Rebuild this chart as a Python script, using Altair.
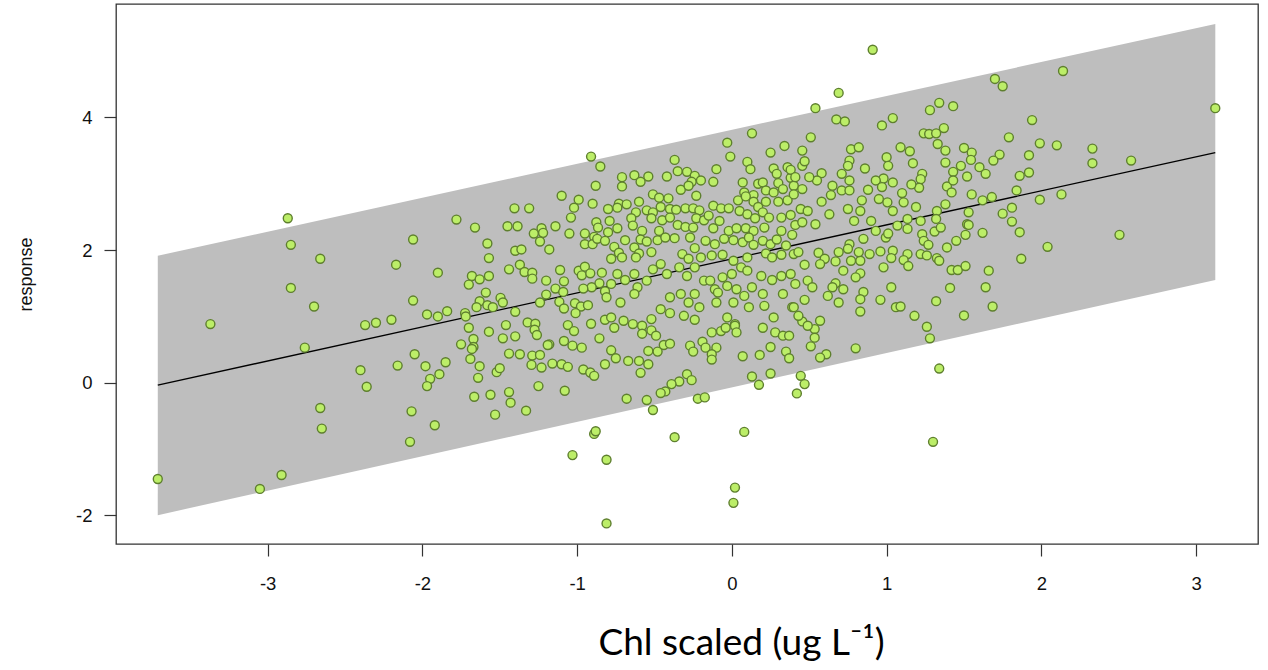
import altair as alt
import pandas as pd

# ---- data (x = Chl scaled, y = response) ----
pts_far_left = [(-2.87,2.48),(-2.85,2.08),(-2.66,1.87),(-2.85,1.43),(-2.70,1.15),(-3.37,0.885),(-2.76,0.53),
    (-3.71,-1.45),(-3.05,-1.60),(-2.91,-1.39),(-2.66,-0.38),(-2.65,-0.69),(-2.06,2.16),(-2.17,1.78),(-2.06,1.24),
    (-2.37,0.87),(-2.30,0.905),(-2.20,0.95),(-2.40,0.19),(-2.36,-0.06),(-2.16,0.26),(-2.05,0.43),(-2.07,-0.43),(-2.08,-0.89)]

pts_left_upper = [(-0.91,3.41),(-0.85,3.26),(-0.88,2.97),(-1.10,2.82),(-0.99,2.76),(-0.90,2.70),(-1.02,2.64),(-1.405,2.63),
    (-1.31,2.63),(-1.04,2.49),(-1.78,2.46),(-1.66,2.34),(-1.45,2.36),(-1.385,2.36),(-1.14,2.36),(-1.23,2.33),(-1.28,2.25),
    (-1.22,2.26),(-1.05,2.25),(-0.95,2.25),(-0.876,2.42),(-0.865,2.34),(-0.89,2.20),(-0.95,2.09),(-0.90,2.09),(-0.87,2.17),
    (-1.24,2.13),(-1.18,2.01),(-1.58,2.10),(-1.57,1.88),(-1.40,1.99),(-1.36,2.01),(-1.44,1.71),(-1.37,1.78),(-1.34,1.67),
    (-1.29,1.66),(-1.29,1.57),(-1.20,1.54),(-1.11,1.70),(-1.085,1.53),(-0.99,1.69),(-0.95,1.75),(-0.97,1.62),(-0.915,1.65),
    (-0.84,1.66),(-0.856,1.50),(-0.906,1.44),(-1.90,1.66),(-1.68,1.61),(-1.63,1.56),(-1.57,1.61),(-1.70,1.48),(-1.59,1.36),
    (-1.495,1.28),(-1.48,1.21),(-1.63,1.23),(-1.58,1.17),(-1.65,1.14),(-1.545,1.14),(-1.84,1.08),(-1.97,1.03),(-1.90,1.00),
    (-1.724,1.05),(-1.72,1.00),(-1.40,1.07),(-1.20,1.33),(-1.14,1.42),(-1.09,1.37),(-1.24,1.21),(-1.115,1.22),(-1.085,1.12),
    (-1.014,1.20),(-0.975,1.15),(-0.93,1.17),(-1.01,1.05),(-0.96,1.42),(-0.82,1.38),(-0.91,0.89),(-0.82,0.95),(-1.32,0.91),
    (-1.27,0.89),(-1.275,0.80),(-1.26,0.72),(-1.46,0.87),(-1.40,0.70),(-1.57,0.77),(-1.70,0.83),(-1.67,0.66),(-1.75,0.58),
    (-1.67,0.54),(-1.48,0.67),(-1.18,0.58),(-1.085,0.63),(-1.03,0.56),(-1.06,0.87),(-1.02,0.78),(-0.97,0.53),(-0.856,0.67)]

pts_left_lower = [(-1.98,0.25),(-1.85,0.31),(-1.89,0.13),(-1.95,0.06),(-1.97,-0.05),(-1.92,-0.64),(-1.68,0.51),(-1.69,0.36),
    (-1.63,0.25),(-1.64,0.075),(-1.665,-0.21),(-1.56,-0.18),(-1.53,-0.48),(-1.44,-0.14),(-1.43,-0.30),(-1.33,-0.42),
    (-1.52,0.16),(-1.50,0.22),(-1.44,0.44),(-1.37,0.43),(-1.29,0.41),(-1.24,0.42),(-1.295,0.27),(-1.23,0.23),(-1.25,-0.05),
    (-1.19,0.57),(-1.16,0.29),(-1.10,0.28),(-1.06,0.24),(-1.08,-0.12),(-0.96,0.20),(-0.915,0.155),(-0.89,0.105),(-0.82,0.28),
    (-0.89,-0.77),(-0.88,-0.73),(-1.03,-1.09),(-0.81,-1.16),(-0.81,-2.12)]

pts_center_upper = [(0.13,3.76),(-0.03,3.62),(0.34,3.57),(0.25,3.47),(-0.01,3.41),(-0.37,3.36),(-0.35,3.19),(-0.29,3.18),
    (-0.10,3.22),(0.10,3.33),(0.12,3.22),(0.27,3.23),(0.36,3.25),(0.29,3.15),(-0.71,3.10),(-0.63,3.13),(-0.54,3.11),
    (-0.59,3.03),(-0.42,3.11),(-0.71,2.96),(-0.24,3.12),(-0.26,3.03),(-0.20,3.05),(-0.33,2.91),(-0.28,2.97),(-0.12,3.03),
    (0.07,3.02),(0.17,3.00),(0.20,3.02),(0.30,3.01),(0.38,3.09),(0.40,2.97),(0.22,2.90),(0.27,2.87),(0.33,2.92),(0.08,2.87),
    (0.14,2.83),(-0.51,2.84),(-0.47,2.79),(-0.41,2.78),(-0.23,2.82),(-0.60,2.73),(-0.73,2.70),(-0.68,2.69),(-0.80,2.62),
    (-0.74,2.64),(-0.62,2.57),(-0.55,2.60),(-0.51,2.57),(-0.46,2.65),(-0.40,2.62),(-0.36,2.61),(-0.30,2.63),(-0.25,2.63),
    (-0.21,2.60),(-0.12,2.67),(-0.07,2.63),(-0.02,2.63),(0.04,2.75),(0.09,2.81),(0.14,2.73),(0.17,2.65),(0.22,2.73),
    (0.30,2.73),(0.36,2.75),(0.40,2.84),(0.05,2.59),(0.10,2.54),(0.15,2.48),(0.20,2.57),(0.24,2.49),(0.32,2.49),(0.38,2.53),
    (0.41,2.38),(-0.79,2.44),(-0.74,2.33),(-0.80,2.27),(-0.65,2.48),(-0.64,2.37),(-0.58,2.29),(-0.52,2.48),(-0.45,2.45),
    (-0.47,2.29),(-0.40,2.49),(-0.35,2.38),(-0.30,2.35),(-0.25,2.34),(-0.23,2.48),(-0.18,2.45),(-0.15,2.52),(-0.12,2.33),
    (-0.08,2.44),(-0.02,2.29),(0.03,2.33),(0.09,2.33),(0.14,2.29),(0.21,2.34),(0.32,2.29),(0.39,2.23),(-0.82,2.14),
    (-0.69,2.15),(-0.59,2.16),(-0.55,2.13),(-0.48,2.15),(-0.43,2.19),(-0.37,2.18),(-0.27,2.19),(-0.24,2.03),(-0.17,2.14),
    (-0.11,2.09),(-0.05,2.17),(0.01,2.15),(0.07,2.12),(0.11,2.19),(0.14,2.08),(0.20,2.14),(0.25,2.09),(0.29,2.16),(0.35,2.07),
    (-0.76,2.05),(-0.73,1.96),(-0.78,1.87),(-0.71,1.89),(-0.63,2.04),(-0.60,1.95),(-0.62,1.89),(-0.52,1.97),(-0.46,1.79),
    (-0.32,1.94),(-0.28,1.87),(-0.20,1.89),(-0.13,1.92),(-0.06,1.93),(0.01,1.84),(0.06,1.74),(0.10,1.89),(0.22,1.95),
    (0.26,1.89),(0.32,1.93),(0.40,1.94),(-0.74,1.64),(-0.78,1.49),(-0.69,1.55),(-0.63,1.64),(-0.61,1.44),(-0.55,1.54),
    (-0.51,1.71),(-0.42,1.64),(-0.34,1.74),(-0.29,1.61),(-0.24,1.74),(-0.18,1.54),(-0.14,1.54),(-0.11,1.41),(-0.06,1.59),
    (-0.03,1.46),(0.00,1.64),(0.03,1.41),(0.10,1.69),(0.13,1.44),(0.19,1.61),(0.26,1.55),(0.32,1.61),(0.38,1.64),(0.41,1.49),
    (-0.81,1.29),(-0.72,1.21),(-0.70,0.935),(-0.78,0.985),(-0.63,1.34),(-0.64,0.885),(-0.58,0.86),(-0.46,1.11),(-0.40,1.05),
    (-0.40,1.29),(-0.33,1.34),(-0.28,1.21),(-0.24,1.34),(-0.21,1.14),(-0.24,0.95),(-0.31,1.01),(-0.09,1.36),(-0.10,1.21),
    (-0.03,0.985),(0.02,0.885),(0.01,1.21),(0.08,1.31),(0.11,1.14),(0.20,1.34),(0.21,1.16),(0.27,0.985),(0.33,1.34),
    (0.39,1.14),(-0.76,0.83),(-0.52,0.96)]

pts_center_lower = [(-0.58,0.74),(-0.52,0.79),(-0.49,0.71),(-0.78,0.49),(-0.75,0.37),(-0.67,0.33),(-0.60,0.33),(-0.54,0.28),
    (-0.59,0.15),(-0.54,0.48),(-0.48,0.47),(-0.44,0.57),(-0.40,0.59),(-0.27,0.56),(-0.25,0.47),(-0.19,0.62),(-0.17,0.53),
    (-0.10,0.53),(-0.13,0.43),(-0.13,0.35),(-0.13,0.76),(-0.07,0.78),(-0.04,0.83),(0.02,0.86),(0.03,0.76),(0.07,0.40),
    (0.18,0.42),(0.20,0.83),(0.28,0.76),(0.33,0.71),(0.37,0.71),(0.25,0.54),(0.35,0.47),(0.37,0.37),(-0.29,0.13),(-0.26,0.04),
    (-0.34,0.02),(-0.39,-0.02),(-0.43,-0.13),(-0.46,-0.155),(-0.68,-0.24),(-0.55,-0.26),(-0.51,-0.41),(-0.22,-0.24),
    (-0.175,-0.22),(0.13,0.095),(0.175,-0.03),(0.25,0.14),(0.42,-0.16),(-0.37,-0.82),(0.08,-0.74),(0.02,-1.58),(0.01,-1.81)]

pts_right_upper = [(0.91,5.02),(0.69,4.37),(0.54,4.14),(0.675,3.97),(0.73,3.94),(0.97,3.88),(1.04,3.99),(1.28,4.11),
    (1.34,4.22),(1.43,4.17),(0.51,3.70),(1.24,3.76),(1.275,3.75),(1.32,3.76),(1.37,3.84),(1.33,3.60),(1.38,3.50),(0.455,3.50),
    (0.77,3.52),(0.82,3.55),(1.09,3.55),(1.15,3.49),(1.00,3.40),(0.76,3.35),(1.50,3.54),(1.55,3.47),(1.545,3.36),(1.01,3.27),
    (1.17,3.31),(1.38,3.32),(0.86,3.23),(0.75,3.27),(0.455,3.27),(0.38,3.21),(0.47,3.34),(1.60,3.25),(1.64,3.15),(1.48,3.27),
    (1.43,3.18),(1.52,3.11),(1.23,3.15),(1.22,3.07),(1.21,2.94),(1.16,2.99),(0.98,3.08),(1.04,3.02),(0.93,3.05),(0.76,3.05),
    (0.71,3.15),(0.58,3.16),(0.55,3.05),(0.50,3.10),(0.41,3.10),(0.65,2.97),(0.71,2.90),(0.76,2.90),(0.88,2.91),(0.97,2.95),
    (1.10,2.86),(1.39,2.96),(1.43,3.05),(1.42,2.87),(1.55,2.84),(1.62,2.75),(0.455,2.92),(0.58,2.73),(0.64,2.83),(0.84,2.75),
    (0.95,2.77),(1.005,2.72),(1.11,2.72),(1.19,2.65),(1.325,2.59),(1.38,2.69),(1.53,2.57),(0.445,2.62),(0.49,2.59),(0.75,2.62),
    (0.83,2.59),(1.04,2.59),(0.63,2.54),(0.79,2.44),(0.90,2.44),(0.455,2.42),(0.54,2.39),(1.135,2.47),(1.22,2.44),(1.32,2.47),
    (1.52,2.39)]

pts_right_lower = [(1.07,2.37),(1.135,2.32),(1.23,2.24),(1.31,2.28),(1.35,2.34),(1.53,2.38),(1.62,2.26),(1.51,2.23),
    (1.45,2.14),(1.39,2.04),(1.24,2.14),(1.27,2.08),(0.995,2.19),(1.01,2.25),(0.93,2.29),(0.85,2.17),(0.76,2.09),(0.75,2.02),
    (0.69,1.97),(0.56,1.96),(0.43,1.97),(0.60,1.87),(0.57,1.79),(0.67,1.83),(0.77,1.84),(0.83,1.84),(0.82,1.97),(0.89,1.94),
    (0.96,1.98),(1.04,1.99),(1.03,1.88),(1.135,1.94),(1.11,1.85),(1.14,1.76),(1.22,1.94),(1.26,1.92),(1.325,1.88),(1.34,1.84),
    (1.42,1.70),(1.46,1.70),(1.51,1.76),(1.66,1.69),(0.98,1.74),(0.72,1.69),(0.83,1.65),(0.80,1.59),(0.47,1.78),(0.49,1.54),
    (0.52,1.44),(0.67,1.50),(0.65,1.44),(0.72,1.41),(0.62,1.31),(0.85,1.37),(0.83,1.26),(0.69,1.21),(0.83,1.075),(0.96,1.25),
    (1.03,1.44),(1.06,1.14),(1.09,1.15),(1.18,1.01),(1.26,0.845),(1.28,0.67),(1.32,1.23),(1.41,1.43),(1.50,1.015),(1.64,1.44),
    (0.47,1.25),(0.40,1.14),(0.455,0.925),(0.43,1.01),(0.57,0.935),(0.535,0.81),(0.535,0.68),(0.49,0.86),(0.51,0.55),
    (0.61,0.43),(0.57,0.38),(0.80,0.52),(0.445,0.105),(0.47,-0.02),(1.34,0.215),(1.30,-0.89)]

pts_far_right = [(1.70,4.58),(1.75,4.47),(2.14,4.70),(3.124,4.14),(1.94,3.96),(1.79,3.70),(1.99,3.61),(2.10,3.58),
    (1.73,3.44),(1.69,3.35),(1.92,3.43),(1.86,3.12),(1.92,3.17),(2.33,3.53),(2.33,3.31),(2.58,3.35),(1.84,2.90),(1.68,2.80),
    (1.81,2.64),(1.75,2.55),(1.81,2.43),(1.99,2.76),(2.13,2.84),(1.86,2.27),(2.04,2.05),(2.505,2.23),(1.87,1.87),(1.685,1.15)]

# fitted line and band end points
band_x = [-3.71, 3.124]
fit_y = [-0.035, 3.47]
band_lo = [-1.995, 1.55]
band_hi = [1.915, 5.41]

x_ticks = [-3, -2, -1, 0, 1, 2, 3]
y_ticks = [-2, 0, 2, 4]

all_pts = (pts_far_left + pts_left_upper + pts_left_lower + pts_center_upper + pts_center_lower
           + pts_right_upper + pts_right_lower + pts_far_right)
df = pd.DataFrame(all_pts, columns=["chl", "response"])
band_df = pd.DataFrame({"x": band_x, "fit": fit_y, "lo": band_lo, "hi": band_hi})

xs = alt.Scale(domain=[-3.98, 3.40], nice=False, zero=False)
ys = alt.Scale(domain=[-2.43, 5.71], nice=False, zero=False)

x_axis = alt.Axis(values=x_ticks, labelExpr="'' + datum.value", tickSize=12, tickColor="#333",
                  tickWidth=1.2, labelFont="Liberation Sans", labelFontSize=18.5, labelColor="#111",
                  labelPadding=18, domain=False, grid=False,
                  title="Chl scaled (ug L⁻¹)", titleFont="Lato", titleFontSize=37,
                  titleFontWeight="normal", titleColor="#000", titleX=625, titleY=110,
                  titleBaseline="alphabetic", titleAlign="center")
y_axis = alt.Axis(values=y_ticks, labelExpr="'' + datum.value", tickSize=12, tickColor="#333",
                  tickWidth=1.2, labelFont="Liberation Sans", labelFontSize=18.5, labelColor="#111",
                  labelPadding=12, domain=False, grid=False,
                  title="response", titleFont="Liberation Sans", titleFontSize=18,
                  titleFontWeight="normal", titleColor="#111", titleX=-90, titleY=270,
                  titleAlign="center", titleBaseline="middle")

band = alt.Chart(band_df).mark_area(color="#BEBEBE", opacity=1).encode(
    x=alt.X("x:Q", scale=xs, axis=x_axis),
    y=alt.Y("lo:Q", scale=ys, axis=y_axis),
    y2="hi:Q",
)
line = alt.Chart(band_df).mark_line(color="#000", strokeWidth=1.3).encode(
    x=alt.X("x:Q", scale=xs), y=alt.Y("fit:Q", scale=ys)
)
points = alt.Chart(df).mark_circle(fill="#BCEE68", stroke="#5E7F2E", strokeWidth=1.4,
                                   size=80, opacity=1).encode(
    x=alt.X("chl:Q", scale=xs), y=alt.Y("response:Q", scale=ys)
)

chart = (band + line + points).properties(
    width=1142, height=540,
    autosize=alt.AutoSizeParams(type="none"),
    padding={"left": 116, "top": 4, "right": 10, "bottom": 126},
    background="white",
).configure_view(stroke="#333", strokeWidth=1.3)

chart.save("out.html", embed_options={"renderer": "svg", "actions": False})
